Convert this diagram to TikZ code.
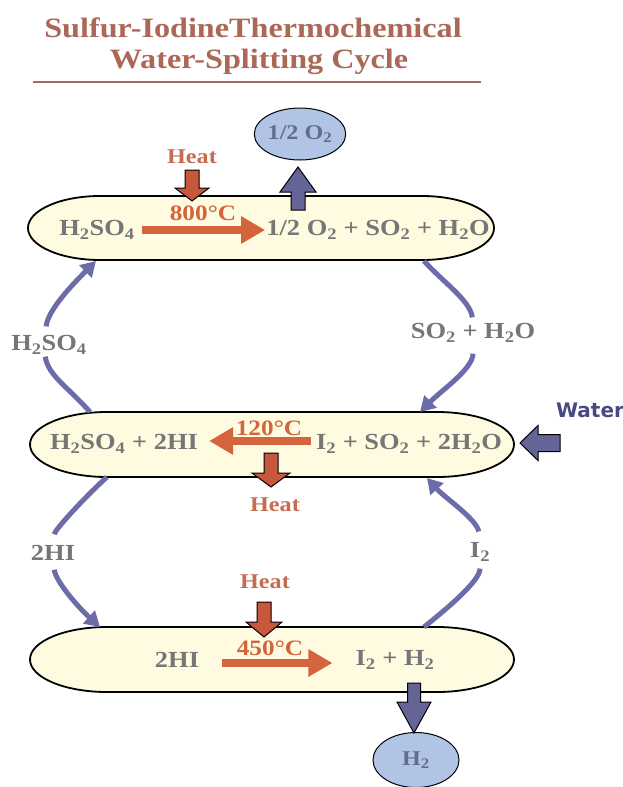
\documentclass[tikz,border=0pt]{standalone}
\usepackage{fontspec}
\setmainfont[FakeStretch=1.15]{Liberation Serif}
\newfontfamily\wfont{DejaVu Sans}
\usetikzlibrary{arrows.meta,calc,shapes.geometric}
\definecolor{txtgray}{RGB}{118,118,118}
\definecolor{heatc}{RGB}{198,108,80}
\definecolor{titlec}{RGB}{172,104,86}
\definecolor{orarrow}{RGB}{212,100,62}
\definecolor{heatarrow}{RGB}{200,88,60}
\definecolor{bluearrow}{RGB}{100,100,150}
\definecolor{bluecon}{RGB}{108,108,168}
\definecolor{ellfill}{RGB}{255,251,224}
\definecolor{gasfill}{RGB}{178,196,230}
\definecolor{gastxt}{RGB}{100,108,140}
\definecolor{waterc}{RGB}{72,72,130}
\newcommand{\downblk}[7]{\draw[#1] ({#2-#5},#3) -- ({#2-#5},{#4-#7}) -- ({#2-#6},{#4-#7}) -- (#2,#4) -- ({#2+#6},{#4-#7}) -- ({#2+#5},{#4-#7}) -- ({#2+#5},#3) -- cycle;}
\newcommand{\upblk}[7]{\draw[#1] ({#2-#5},#3) -- ({#2-#5},{#4+#7}) -- ({#2-#6},{#4+#7}) -- (#2,#4) -- ({#2+#6},{#4+#7}) -- ({#2+#5},{#4+#7}) -- ({#2+#5},#3) -- cycle;}
\newcommand{\stad}[5]{\draw[stadium] ({#1+#5},#3) -- ({#2-#5},#3) arc[start angle=-90,end angle=90,x radius=#5,y radius={(#4-#3)/2}] -- ({#1+#5},#4) arc[start angle=90,end angle=270,x radius=#5,y radius={(#4-#3)/2}] -- cycle;}
\newcommand{\sbs}[1]{\textsubscript{#1}}
\tikzset{
  stadium/.style={draw=black, line width=1.8pt, fill=ellfill},
  chem/.style={text=txtgray, font=\fontsize{23}{25}\selectfont\bfseries, inner sep=1pt},
  heatlbl/.style={text=heatc, font=\fontsize{21}{23}\selectfont\bfseries, inner sep=1pt},
  templbl/.style={text=orarrow, font=\fontsize{22}{24}\selectfont\bfseries, inner sep=1pt},
  gas/.style={ellipse, draw=black, line width=1pt, fill=gasfill, text=gastxt, inner sep=0pt, font=\fontsize{21}{23}\selectfont\bfseries},
  ttl/.style={text=titlec, font=\fontsize{28}{31}\selectfont\bfseries, anchor=base, inner sep=0pt},
  react/.style={orarrow, line width=8pt, -{Triangle[width=26pt,length=24pt]}},
  heatblk/.style={fill=heatarrow, draw=black, line width=1pt},
  blueblk/.style={fill=bluearrow, draw=black, line width=1pt},
  conn/.style={bluecon, line width=5pt},
  connarr/.style={bluecon, line width=5pt, -{Triangle[width=17pt,length=15pt]}},
}
\begin{document}
\begin{tikzpicture}[x=1pt,y=-1pt]
\useasboundingbox[fill=white] (0,0) rectangle (623,787);
% title
\node[ttl] (title1) at (253,37) {Sulfur-IodineThermochemical};
\node[ttl] (title2) at (259,68) {Water-Splitting Cycle};
\draw[titlec, line width=1.2pt] (33,82) -- (481,82);
% ellipses
\stad{28}{494}{196}{260}{72}
\stad{30}{514}{412}{477}{77}
\stad{30}{514}{627}{692}{77}
% gas ellipses
\node[gas, minimum width=87, minimum height=52] (o2) at (300,134) {1/2 O\sbs{2}};
\node[gas, minimum width=86, minimum height=55] (h2) at (416,760) {H\sbs{2}};
% top reaction
\node[chem] (r1a) at (97,230) {H\sbs{2}SO\sbs{4}};
\node[chem] (r1b) at (378,230) {1/2 O\sbs{2} + SO\sbs{2} + H\sbs{2}O};
\draw[react, shorten <=6pt] (r1a.east) -- (r1b.west);
\node[templbl] (t1) at (203,213) {800°C};
\node[heatlbl] (h1) at (192,157) {Heat};
\downblk{heatblk}{192}{170}{201}{7}{17}{13}
\upblk{blueblk}{298}{210}{167}{7}{18}{25}
% middle reaction
\node[chem] (r2a) at (124,444) {H\sbs{2}SO\sbs{4} + 2HI};
\node[chem] (r2b) at (409,444) {I\sbs{2} + SO\sbs{2} + 2H\sbs{2}O};
\draw[react, shorten <=4pt, shorten >=10pt] ([yshift=3pt]r2b.west) -- ([yshift=3pt]r2a.east);
\node[templbl] (t2) at (269,428) {120°C};
\downblk{heatblk}{271}{453}{487}{7}{19}{14}
\node[heatlbl] (h2l) at (275,505) {Heat};
\node[text=waterc, font=\wfont\fontsize{20}{22}\selectfont\bfseries] (water) at (590,410) {Water};
\draw[blueblk] (560,434.5) -- (538,434.5) -- (538,425.5) -- (520,443) -- (538,460.5) -- (538,451.5) -- (560,451.5) -- cycle;
% bottom reaction
\node[chem] (r3a) at (177,660) {2HI};
\node[chem] (r3b) at (395,660) {I\sbs{2} + H\sbs{2}};
\draw[react, shorten <=22pt, shorten >=22pt] ([yshift=-3pt]r3a.east) -- ([yshift=-3pt]r3b.west);
\node[templbl] (t3) at (270,648) {450°C};
\node[heatlbl] (h3) at (265,582) {Heat};
\downblk{heatblk}{264}{602}{637}{7}{18}{15}
\downblk{blueblk}{414}{683}{733}{6.5}{17}{31}
% connector labels
\node[chem] (lH) at (49,345) {H\sbs{2}SO\sbs{4}};
\node[chem] (lS) at (473,333) {SO\sbs{2} + H\sbs{2}O};
\node[chem] (lHI) at (53,553) {2HI};
\node[chem] (lI) at (480,552) {I\sbs{2}};
\coordinate (e1l) at (96,261);
\coordinate (e1r) at (424,261);
\coordinate (e2tl) at (90,412);
\coordinate (e2tr) at (420,412);
\coordinate (e2bl) at (107,477);
\coordinate (e2br) at (427,478);
\coordinate (e3l) at (100,627);
\coordinate (e3r) at (424,627);
% connectors
\draw[conn, shorten >=1pt] (e2tl) .. controls +(-22,-25) and +(3,20) .. (lH.250);
\draw[connarr, shorten <=8pt] (lH.110) .. controls +(3,-25) and +(-22,22) .. (e1l);
\draw[conn, shorten >=5pt] (e1r) .. controls +(20,22) and +(-3,-22) .. (lS.north);
\draw[connarr, shorten <=10pt] (lS.south) .. controls +(0,25) and +(22,-22) .. (e2tr);
\draw[conn, shorten >=10pt] (e2bl) .. controls +(-20,18) and +(2,-15) .. (lHI.north);
\draw[connarr, shorten <=8pt] (lHI.south) .. controls +(3,20) and +(-22,-20) .. (e3l);
\draw[conn, shorten >=6pt] (e3r) .. controls +(25,-20) and +(0,18) .. (lI.south);
\draw[connarr, shorten <=10pt] (lI.north) .. controls +(-3,-22) and +(18,20) .. (e2br);
\end{tikzpicture}
\end{document}
